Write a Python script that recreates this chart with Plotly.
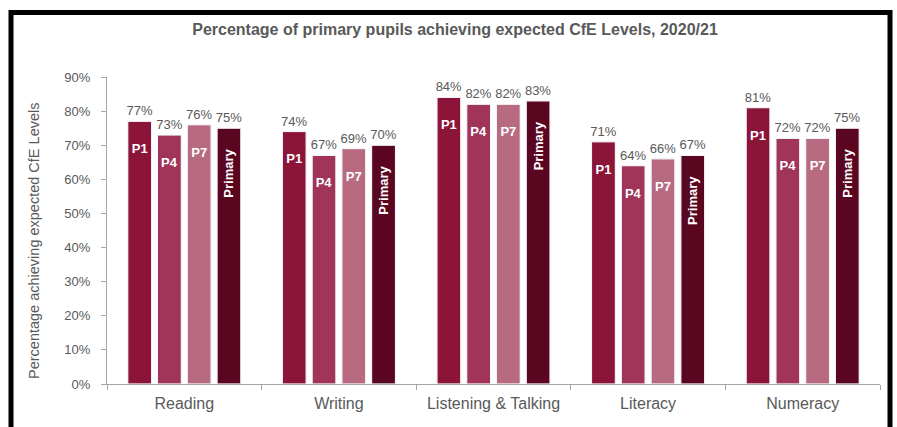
import plotly.graph_objects as go

# Data: % of primary pupils achieving expected CfE levels, 2020/21
categories = ["Reading", "Writing", "Listening & Talking", "Literacy", "Numeracy"]
stages = ["P1", "P4", "P7", "Primary"]
p1 = [77, 74, 84, 71, 81]
p4 = [73, 67, 82, 64, 72]
p7 = [76, 69, 82, 66, 72]
primary = [75, 70, 83, 67, 75]
series = [p1, p4, p7, primary]
colors = ["#8C1439", "#A03459", "#B86A80", "#5A0620"]
y_ticks = [0, 10, 20, 30, 40, 50, 60, 70, 80, 90]

W, H = 897, 427
ML, MR, MT, MB = 107, 17, 77, 43
GRAY = "#595959"
AXIS = "#A6A6A6"
FONT = "Liberation Sans, Arial, sans-serif"

fig = go.Figure()

# Coloured bars with the stage name written inside, near the top
for name, vals, col in zip(stages, series, colors):
    if name == "Primary":
        label, angle = name + "\u00a0" * 5, -90
    else:
        label, angle = "\u00a0<br>" + name, 0
    fig.add_trace(go.Bar(
        x=categories, y=vals, name=name,
        marker=dict(color=col, line=dict(color="white", width=1)),
        text=[label] * len(vals), textposition="inside",
        insidetextanchor="end", textangle=angle, constraintext="none",
        insidetextfont=dict(family=FONT, size=13, color="white", weight="bold"),
        hoverinfo="x+y", showlegend=False, xaxis="x", yaxis="y",
    ))

# Transparent twin bars on an overlaid axis carry the value labels above each bar
for name, vals in zip(stages, series):
    fig.add_trace(go.Bar(
        x=categories, y=vals, name=name,
        marker=dict(color="rgba(0,0,0,0)"),
        text=[f"{v}%" for v in vals], texttemplate="%{text}",
        textposition="outside", textangle=0, constraintext="none",
        outsidetextfont=dict(family=FONT, size=13, color=GRAY),
        cliponaxis=False, hoverinfo="skip", showlegend=False,
        xaxis="x2", yaxis="y",
    ))

# Pixel positions converted to paper units
pw, ph = W - ML - MR, H - MT - MB
def px_x(px):
    return (px - ML) / pw
def px_y(py):
    return (H - MB - py) / ph

# Frame around the whole chart
fig.add_shape(type="rect", xref="paper", yref="paper",
              x0=px_x(11), x1=px_x(890), y0=px_y(440), y1=px_y(12.5),
              line=dict(color="black", width=5), fillcolor="rgba(0,0,0,0)",
              layer="above")

# Vertical axis title
fig.add_annotation(text="Percentage achieving expected CfE Levels",
                   xref="paper", yref="paper", x=px_x(34), y=px_y(241),
                   xanchor="center", yanchor="middle", textangle=-90,
                   showarrow=False, font=dict(family=FONT, size=14.5, color=GRAY))

common_x = dict(range=[-0.5, len(categories) - 0.5], type="category",
                categoryorder="array", categoryarray=categories)

fig.update_layout(
    width=W, height=H,
    margin=dict(l=ML, r=MR, t=MT, b=MB, autoexpand=False),
    paper_bgcolor="white", plot_bgcolor="white",
    barmode="group", bargap=0.23, bargroupgap=0.2,
    font=dict(family=FONT, color=GRAY),
    title=dict(text="<b>Percentage of primary pupils achieving expected CfE Levels, 2020/21</b>",
               x=455 / W, xanchor="center", xref="container",
               y=1 - 29 / H, yanchor="middle", yref="container",
               font=dict(family=FONT, size=16, color=GRAY)),
    xaxis=dict(**common_x, showline=True, linecolor=AXIS, linewidth=1,
               ticks="outside", tickson="boundaries", ticklen=5, tickcolor=AXIS,
               ticklabelstandoff=5,
               tickfont=dict(family=FONT, size=16, color=GRAY),
               showgrid=False, zeroline=False, fixedrange=True),
    xaxis2=dict(**common_x, overlaying="x", visible=False, fixedrange=True),
    yaxis=dict(range=[0, 90], tickmode="array", tickvals=y_ticks,
               ticktext=[f"{v}%" for v in y_ticks],
               showline=True, linecolor=AXIS, linewidth=1,
               ticks="outside", ticklen=5, tickcolor=AXIS, ticklabelstandoff=8,
               tickfont=dict(family=FONT, size=13, color=GRAY),
               showgrid=False, zeroline=False, fixedrange=True),
)

fig.write_html("out.html")
